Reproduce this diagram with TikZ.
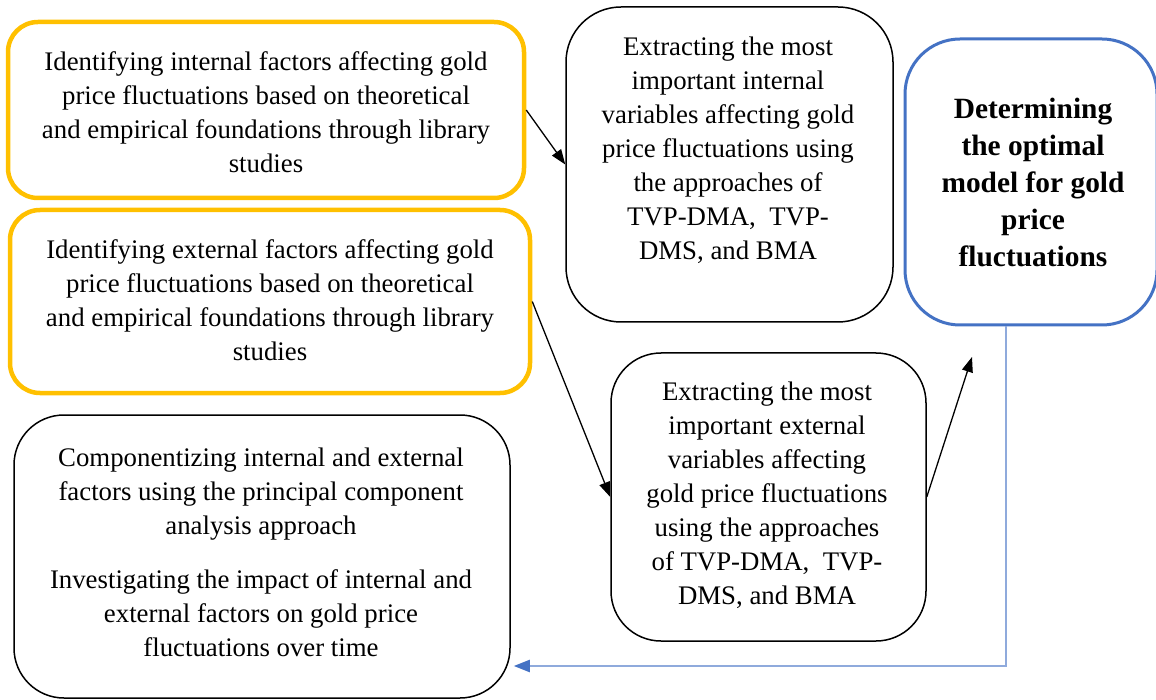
\documentclass[tikz,border=0pt]{standalone}
\usepackage{fontspec}
\setmainfont{Liberation Serif}
\usetikzlibrary{arrows.meta}
\definecolor{goldline}{HTML}{FFC000}
\definecolor{bluebox}{HTML}{4472C4}
\definecolor{bluelink}{HTML}{8FAADC}
\begin{document}
\begin{tikzpicture}[x=1pt,y=-1pt,
  box/.style={draw, rounded corners=#1, inner sep=0pt},
  goldbox/.style={box=#1, draw=goldline, line width=4.5pt},
  blackbox/.style={box=#1, draw=black, line width=1.5pt},
  bluebx/.style={box=#1, draw=bluebox, line width=3pt},
  txt/.style={align=center, inner sep=0pt, font=\fontsize{26.8}{34}\selectfont},
  btxt/.style={align=center, inner sep=0pt, font=\fontsize{29.4}{37}\selectfont\bfseries},
  arr/.style={-{Triangle[length=15pt,width=11pt]}, line width=1.3pt},
  blink/.style={draw=bluelink, line width=2.2pt, -{Triangle[length=16pt,width=12pt,color=bluebox]}}
]
\useasboundingbox (0,0) rectangle (1156,700);
% boxes
\node[goldbox=30pt, minimum width=516pt, minimum height=176pt] (b1) at (266,110) {};
\node[goldbox=30pt, minimum width=520pt, minimum height=183pt] (b2) at (270,301.5) {};
\node[blackbox=55pt, minimum width=327pt, minimum height=315pt] (b3) at (729.5,164.5) {};
\node[bluebx=55pt, minimum width=252pt, minimum height=286pt] (b4) at (1031,182) {};
\node[blackbox=50pt, minimum width=315pt, minimum height=288pt] (b5) at (768.5,497) {};
\node[blackbox=50pt, minimum width=496pt, minimum height=283pt] (b6) at (262,556.5) {};
% texts
\node[txt] (t1) at (266,112.5) {Identifying internal factors affecting gold\\price fluctuations based on theoretical\\and empirical foundations through library\\studies};
\node[txt] (t2) at (270,300.5) {Identifying external factors affecting gold\\price fluctuations based on theoretical\\and empirical foundations through library\\studies};
\node[txt] (t3) at (728,150.5) {Extracting the most\\important internal\\variables affecting gold\\price fluctuations using\\the approaches of\\TVP-DMA,\ \ TVP-\\DMS,\ and BMA};
\node[btxt] (t4) at (1033,182) {Determining\\the optimal\\model for gold\\price\\fluctuations};
\node[txt] (t5) at (767,495) {Extracting the most\\important external\\variables affecting\\gold price fluctuations\\using the approaches\\of TVP-DMA,\ \ TVP-\\DMS,\ and BMA};
\node[txt] (t6) at (261,552) {Componentizing internal and external\\factors using the principal component\\analysis approach\\[20pt]Investigating the impact of internal and\\external factors on gold price\\fluctuations over time};
% connectors
\coordinate (c3) at (972,357);
\coordinate (turn) at (1006,666);
\draw[arr] (b1.east) -- (b3.west);
\draw[arr] (b2.east) -- (b5.west);
\draw[arr] (b5.east) -- (c3);
\draw[blink] (b4.south -| turn) -- (turn) -- ([xshift=3pt]b6.east |- turn);
\end{tikzpicture}
\end{document}
